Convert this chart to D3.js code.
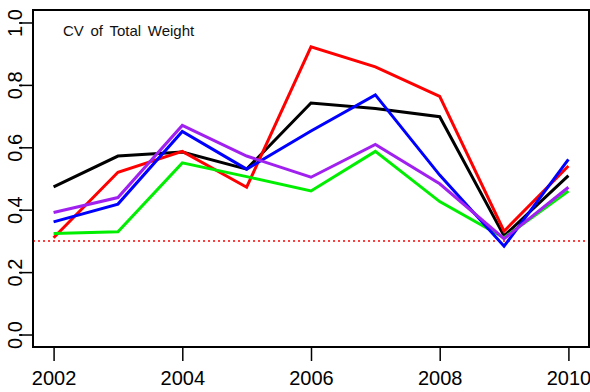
<!DOCTYPE html>
<html>
<head>
<meta charset="utf-8">
<script src="https://cdn.jsdelivr.net/npm/d3@7"></script>
<style>
  html, body { margin: 0; padding: 0; background: #fff; }
  svg { display: block; font-family: "Liberation Sans", Arial, sans-serif; }
</style>
</head>
<body>
<svg id="chart" width="590" height="392"></svg>
<script>
// Survey years
const years = [2002, 2003, 2004, 2005, 2006, 2007, 2008, 2009, 2010];

// Coefficient of variation of total weight, one series per line
const cvBlack  = [0.473, 0.572, 0.585, 0.530, 0.742, 0.724, 0.698, 0.316, 0.509];
const cvRed    = [0.310, 0.520, 0.587, 0.472, 0.922, 0.858, 0.763, 0.331, 0.540];
const cvGreen  = [0.324, 0.329, 0.550, 0.506, 0.460, 0.587, 0.426, 0.310, 0.460];
const cvBlue   = [0.361, 0.418, 0.651, 0.530, 0.652, 0.768, 0.511, 0.283, 0.561];
const cvPurple = [0.391, 0.439, 0.670, 0.572, 0.504, 0.609, 0.483, 0.307, 0.472];

const seriesColors = ["#000000", "#ff0000", "#00ee00", "#0000ff", "#a020f0"];
const seriesValues = [cvBlack, cvRed, cvGreen, cvBlue, cvPurple];

// Target CV reference level
const targetCV = 0.30;

// Axis ticks
const xTicks = [2002, 2004, 2006, 2008, 2010];
const yTicks = [0.0, 0.2, 0.4, 0.6, 0.8, 1.0];

const title = "CV of Total Weight";

const svg = d3.select("#chart");
const box = { left: 33, right: 589, top: 10, bottom: 347 };

// Domains padded by 4% on each side
const x = d3.scaleLinear().domain([2001.68, 2010.32]).range([box.left, box.right]);
const y = d3.scaleLinear().domain([-0.04, 1.04]).range([box.bottom, box.top]);

// Reference line
svg.append("line")
  .attr("x1", box.left).attr("x2", box.right)
  .attr("y1", y(targetCV)).attr("y2", y(targetCV))
  .attr("stroke", "#ff0000").attr("stroke-width", 1.5)
  .attr("stroke-dasharray", "2,3");

// Series lines
const line = d3.line().x((d, i) => x(years[i])).y(d => y(d));
seriesValues.forEach((vals, k) => {
  svg.append("path")
    .datum(vals)
    .attr("d", line)
    .attr("fill", "none")
    .attr("stroke", seriesColors[k])
    .attr("stroke-width", 3)
    .attr("stroke-linejoin", "miter");
});

// Plot frame
svg.append("rect")
  .attr("x", box.left).attr("y", box.top)
  .attr("width", box.right - box.left).attr("height", box.bottom - box.top)
  .attr("fill", "none").attr("stroke", "#000").attr("stroke-width", 2);

// X axis
const xAxis = d3.axisBottom(x).tickValues(xTicks).tickFormat(d3.format("d"))
  .tickSizeInner(14).tickSizeOuter(0).tickPadding(8);
const gx = svg.append("g").attr("transform", `translate(0,${box.bottom})`).call(xAxis);
gx.select(".domain").remove();
gx.selectAll(".tick line").attr("stroke", "#000").attr("stroke-width", 1.5);
gx.selectAll(".tick text").attr("font-size", 20).attr("fill", "#000")
  .attr("dy", null).attr("y", 38);

// Y axis
const yAxis = d3.axisLeft(y).tickValues(yTicks).tickFormat(d3.format(".1f"))
  .tickSizeInner(14).tickSizeOuter(0);
const gy = svg.append("g").attr("transform", `translate(${box.left},0)`).call(yAxis);
gy.select(".domain").remove();
gy.selectAll(".tick line").attr("stroke", "#000").attr("stroke-width", 1.5);
gy.selectAll(".tick text")
  .attr("font-size", 20).attr("fill", "#000")
  .attr("x", null).attr("dy", null)
  .attr("text-anchor", "middle")
  .attr("transform", "translate(-11,0) rotate(-90)");

// Title inside the plot
svg.append("text")
  .attr("x", 63).attr("y", 36)
  .attr("font-size", 15)
  .attr("word-spacing", 2.5)
  .attr("fill", "#111")
  .text(title);
</script>
</body>
</html>
